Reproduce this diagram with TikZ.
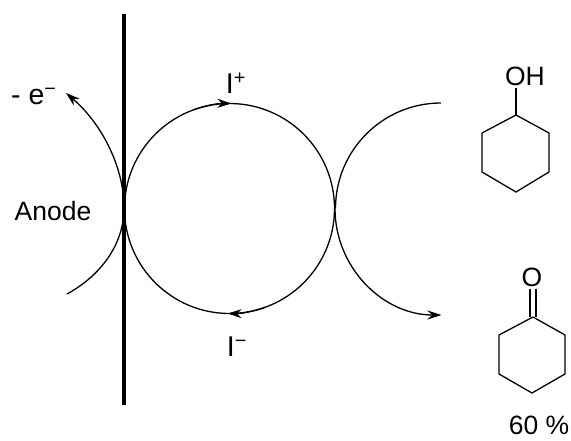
\documentclass[tikz,border=0pt]{standalone}
\usepackage{fontspec}
\setmainfont{Liberation Sans}
\usetikzlibrary{arrows.meta,positioning}

\tikzset{
  label text/.style={inner sep=0pt, font=\fontsize{26.5}{26.5}\selectfont},
  ion text/.style={inner sep=0pt, font=\fontsize{28.5}{28.5}\selectfont},
  bond/.style={line width=1.3pt},
  curve/.style={line width=1.3pt},
  curve tip/.style={curve, -{Stealth[length=14pt,width=9pt]}}
}

\begin{document}
\begin{tikzpicture}[x=1pt, y=-1pt]
  \useasboundingbox (0,0) rectangle (571,441);

  % Nodes
  \node (mediator) [draw, circle, line width=1.3pt, minimum size=210pt, inner sep=0pt, outer sep=0pt] at (229.5,208.5) {};
  \node (anode) [label text] at (53,211) {Anode};
  \node (electron) [ion text, anchor=west] at (11,96) {- e\textsuperscript{−}};
  \node (iplus) [ion text] at (236,83) {I\textsuperscript{+}};
  \node (iminus) [ion text] at (237,347) {I\textsuperscript{−}};
  \node (oh) [label text] at (525,76) {OH};
  \node (oxo) [label text] at (532,277) {O};
  \node (yield) [label text] at (539,425) {60 \%};

  % Coordinates
  \coordinate (electrodetop) at (124,14);
  \coordinate (electrodebottom) at (124,405);
  \coordinate (anodestart) at (67,294);
  \coordinate (anodetouch) at (124,208);
  \coordinate (anodeend) at (66,93);
  \coordinate (rightstart) at (441,103);
  \coordinate (righttouch) at (335,208.5);

  % Alcohol ring
  \coordinate (a1) at (516,115);
  \coordinate (a2) at (549,133);
  \coordinate (a3) at (549,172);
  \coordinate (a4) at (516,192);
  \coordinate (a5) at (482,172);
  \coordinate (a6) at (482,133);

  % Ketone ring
  \coordinate (k1) at (533,317);
  \coordinate (k2) at (565,335);
  \coordinate (k3) at (565,374);
  \coordinate (k4) at (532,393);
  \coordinate (k5) at (499,374);
  \coordinate (k6) at (499,335);

  % Edges
  \draw[line width=3.5pt] (electrodetop) -- (electrodebottom);
  \draw[curve] (anodestart) .. controls (100,276) and (124,245) .. (anodetouch);
  \draw[curve tip] (anodetouch) .. controls (124,165) and (100,122) .. (anodeend);
  \draw[curve tip] (mediator.110) arc[start angle=250, end angle=271, radius=105];
  \draw[curve tip] (mediator.-70) arc[start angle=70, end angle=91, radius=105];
  \draw[curve] (rightstart) arc[start angle=270, end angle=180, radius=105.5];
  \draw[curve tip] (righttouch) arc[start angle=180, end angle=90, radius=106.5];

  \draw[bond] (a1) -- (a2) -- (a3) -- (a4) -- (a5) -- (a6) -- cycle;
  \draw[bond] ([yshift=-2pt]oh.south -| a1) -- (a1);
  \draw[bond] (k1) -- (k2) -- (k3) -- (k4) -- (k5) -- (k6) -- cycle;
  \draw[bond] ([xshift=-3pt,yshift=-2pt]oxo.south -| k1) -- ([xshift=-3pt]k1);
  \draw[bond] ([xshift=3pt,yshift=-2pt]oxo.south -| k1) -- ([xshift=3pt]k1);
\end{tikzpicture}
\end{document}
